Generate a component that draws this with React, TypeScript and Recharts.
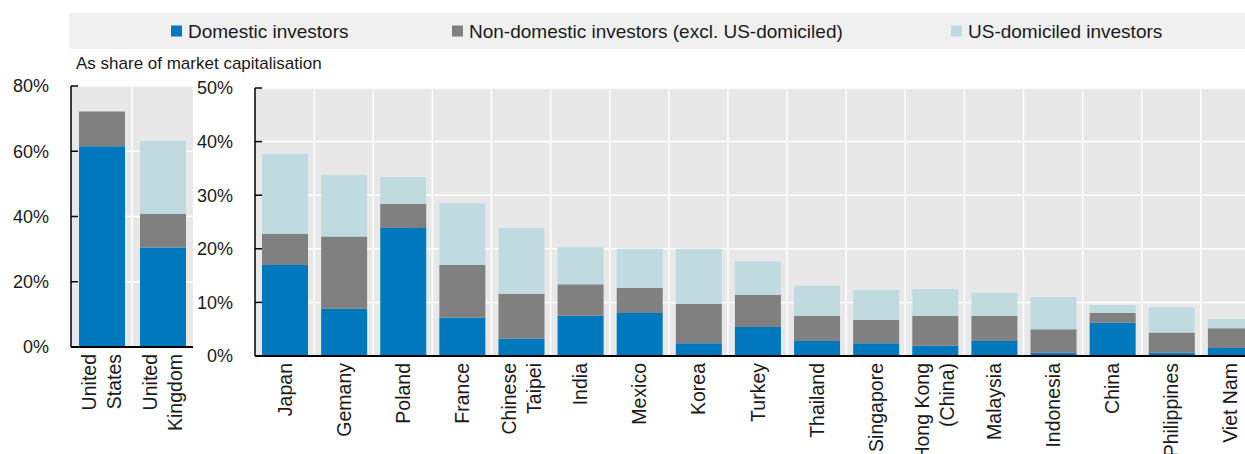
import React from 'react';
import { BarChart, Bar, XAxis, YAxis, CartesianGrid } from 'recharts';

const FONT = '"Liberation Sans", Arial, sans-serif';

const seriesNames = ['Domestic investors', 'Non-domestic investors (excl. US-domiciled)', 'US-domiciled investors'];
const seriesColors = ['#0078be', '#808080', '#bfdbe0'];
const subtitle = 'As share of market capitalisation';

const leftCategories = ['United States', 'United Kingdom'];
const leftDomestic = [61.5, 30.5];
const leftNonDomestic = [10.7, 10.3];
const leftUS = [0, 22.4];
const leftTicks = [0, 20, 40, 60, 80];

const rightCategories = [
  'Japan', 'Gemany', 'Poland', 'France', 'Chinese Taipei', 'India', 'Mexico', 'Korea', 'Turkey',
  'Thailand', 'Singapore', 'Hong Kong (China)', 'Malaysia', 'Indonesia', 'China', 'Philippines', 'Viet Nam',
];
const rightDomestic = [17.0, 8.8, 23.9, 7.2, 3.2, 7.5, 8.0, 2.4, 5.4, 2.8, 2.4, 1.9, 2.8, 0.6, 6.2, 0.6, 1.5];
const rightNonDomestic = [5.8, 13.5, 4.5, 9.8, 8.4, 5.9, 4.7, 7.3, 6.0, 4.7, 4.3, 5.6, 4.7, 4.4, 1.8, 3.8, 3.7];
const rightUS = [14.9, 11.4, 5.0, 11.5, 12.3, 6.9, 7.3, 10.3, 6.3, 5.6, 5.6, 5.0, 4.3, 6.0, 1.5, 4.7, 1.7];
const rightTicks = [0, 10, 20, 30, 40, 50];

const labelLines: Record<string, string[]> = {
  'United States': ['United', 'States'],
  'United Kingdom': ['United', 'Kingdom'],
  'Chinese Taipei': ['Chinese', 'Taipei'],
  'Hong Kong (China)': ['Hong Kong', '(China)'],
};

const buildRows = (cats: string[], d: number[], n: number[], u: number[]) =>
  cats.map((c, i) => ({ name: c, domestic: d[i], nonDomestic: n[i], us: u[i] }));

const leftData = buildRows(leftCategories, leftDomestic, leftNonDomestic, leftUS);
const rightData = buildRows(rightCategories, rightDomestic, rightNonDomestic, rightUS);

const YTick = (props: any) => {
  const { x, y, payload } = props;
  return (
    <g>
      <line x1={x + 22} x2={x + 29} y1={y} y2={y} stroke="#000" strokeWidth={1.5} />
      <text x={x} y={y} dy="0.35em" textAnchor="end" fontSize={18} fill="#1a1a1a" fontFamily={FONT}>
        {payload.value}%
      </text>
    </g>
  );
};

const XTick = (props: any) => {
  const { x, y, payload } = props;
  const lines = labelLines[payload.value] ?? [payload.value];
  const n = lines.length;
  const gap = 25;
  return (
    <g>
      {lines.map((l, i) => {
        const bx = x + 7 + (i - (n - 1) / 2) * gap;
        return (
          <text
            key={i}
            transform={`translate(${bx},${y}) rotate(-90)`}
            textAnchor="end"
            fontSize={19.5}
            fill="#1a1a1a"
            fontFamily={FONT}
          >
            {l}
          </text>
        );
      })}
    </g>
  );
};

const bandLines = (count: number) => (p: any) => {
  const off = p.offset || {};
  const left = off.left ?? 0;
  const width = off.width ?? 0;
  const res: number[] = [];
  for (let i = 1; i < count; i++) res.push(left + (i * width) / count);
  return res;
};

const Panel = ({ data, ticks, max, yWidth, width, top, xHeight, right, n }: any) => (
  <BarChart
    width={width}
    height={454}
    data={data}
    margin={{ top, right, bottom: 0, left: 0 }}
    barSize={46}
  >
    <CartesianGrid
      stroke="#ffffff"
      strokeWidth={1.5}
      fill="#e8e8e8"
      fillOpacity={1}
      verticalCoordinatesGenerator={bandLines(n)}
    />
    <Bar dataKey="domestic" stackId="s" fill={seriesColors[0]} isAnimationActive={false} />
    <Bar dataKey="nonDomestic" stackId="s" fill={seriesColors[1]} isAnimationActive={false} />
    <Bar dataKey="us" stackId="s" fill={seriesColors[2]} isAnimationActive={false} />
    <XAxis
      dataKey="name"
      height={xHeight}
      interval={0}
      tickSize={0}
      tickMargin={7}
      tickLine={false}
      axisLine={{ stroke: '#000', strokeWidth: 2 }}
      tick={<XTick />}
    />
    <YAxis
      width={yWidth}
      domain={[0, max]}
      ticks={ticks}
      interval={0}
      tickSize={0}
      tickMargin={22}
      tickLine={false}
      axisLine={{ stroke: '#000', strokeWidth: 1.5 }}
      tick={<YTick />}
    />
  </BarChart>
);

const legendX = [171, 452, 951];

export default function App() {
  return (
    <div
      style={{
        position: 'fixed',
        left: 0,
        top: 0,
        width: 1245,
        height: 454,
        overflow: 'hidden',
        background: '#fff',
        fontFamily: FONT,
      }}
    >
      <svg width={1245} height={80} style={{ position: 'absolute', left: 0, top: 0 }}>
        <rect x={69} y={13} width={1176} height={36} fill="#f0f0f0" />
        {seriesNames.map((s, i) => (
          <g key={s}>
            <rect x={legendX[i]} y={25.5} width={11} height={11} fill={seriesColors[i]} />
            <text x={legendX[i] + 17} y={37.5} fontSize={19} fill="#1a1a1a" fontFamily={FONT}>
              {s}
            </text>
          </g>
        ))}
        <text x={76} y={69} fontSize={17} fill="#1a1a1a" fontFamily={FONT}>
          {subtitle}
        </text>
      </svg>
      <div style={{ position: 'absolute', left: 0, top: 0 }}>
        <Panel data={leftData} ticks={leftTicks} max={80} yWidth={71} width={200} top={86} xHeight={107} right={7} n={2} />
      </div>
      <div style={{ position: 'absolute', left: 195, top: 0 }}>
        <Panel data={rightData} ticks={rightTicks} max={50} yWidth={60} width={1067} top={88} xHeight={98} right={2} n={17} />
      </div>
    </div>
  );
}
